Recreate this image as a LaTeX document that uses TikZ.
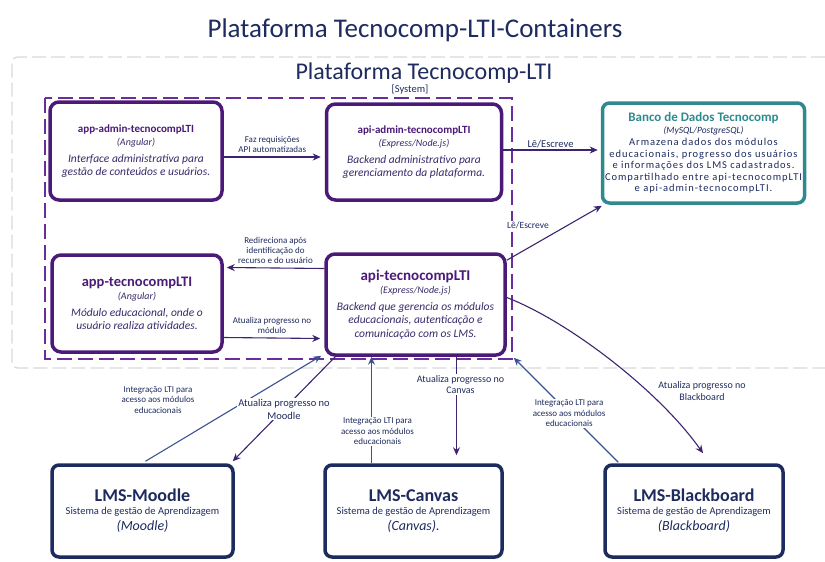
\documentclass[tikz,border=0pt]{standalone}
\usepackage{fontspec}
\setmainfont{Carlito}
\usetikzlibrary{arrows.meta}
\definecolor{purp}{HTML}{4B1A78}
\definecolor{purpd}{HTML}{6B2C9C}
\definecolor{tealc}{HTML}{2F8A8F}
\definecolor{navy}{HTML}{1E2B5E}
\definecolor{cArrP}{HTML}{3D2470}
\definecolor{cArrB}{HTML}{3A5290}
\definecolor{txt}{HTML}{3A2A6A}
\newcommand\fs[2]{\fontsize{#1}{#2}\selectfont}
\newcommand\wide{\addfontfeature{LetterSpace=9}}
\begin{document}
\begin{tikzpicture}[x=1pt,y=-1pt,
 pbox/.style={draw=purp, line width=3.5pt, rounded corners=9pt, fill=white, align=center, inner sep=2pt, text=txt, font=\fs{11.5}{13.5}},
 dbox/.style={draw=tealc, line width=3.5pt, rounded corners=7pt, fill=white, align=center, inner sep=2pt, text=navy, font=\fs{10.5}{11.5}},
 lbox/.style={draw=navy, line width=3.5pt, rounded corners=7pt, fill=white, align=center, inner sep=2pt, text=navy, font=\fs{10.5}{13}},
 arrowp/.style={-{Stealth[length=8pt,width=7pt]}, line width=1.1pt, draw=cArrP},
 arrowb/.style={-{Stealth[length=8pt,width=7pt]}, line width=1.1pt, draw=cArrB},
 lbl/.style={font=\fs{8.5}{9.5}, align=center, text=navy, fill=white, inner sep=1pt}
]
\useasboundingbox (0,0) rectangle (825,562);

% title
\node[text=navy, font=\fs{27}{30}] (title) at (415,30) {Plataforma Tecnocomp-LTI-Containers};

% outer grey boundary
\draw[gray!30, line width=1.3pt, dash pattern=on 14pt off 5pt, rounded corners=6pt]
  (825,57) -- (12,57) -- (12,368) -- (825,368);
\node[text=navy, font=\fs{24}{26}] (sys) at (424,73) {Plataforma Tecnocomp-LTI};
\node[text=navy, font=\fs{10.5}{12}] (systag) at (410,90) {[System]};

% purple system boundary
\draw[purpd, line width=2.8pt, dash pattern=on 15pt off 6pt] (45,98) rectangle (512,359);

% boxes
\node[pbox, minimum width=172pt, minimum height=98pt] (appadmin) at (136,151) {%
 {\fs{11}{13}\bfseries\color{purp}app-admin-tecnocompLTI}\\
 {\fs{10}{12}\itshape (Angular)}\\[3pt]
 {\itshape Interface administrativa para}\\
 {\itshape gestão de conteúdos e usuários.}};

\node[pbox, minimum width=175pt, minimum height=96pt] (apiadmin) at (414,152) {%
 {\fs{11}{13}\bfseries\color{purp}api-admin-tecnocompLTI}\\
 {\fs{10}{12}\itshape (Express/Node.js)}\\[3pt]
 {\itshape Backend administrativo para}\\
 {\itshape gerenciamento da plataforma.}};

\node[dbox, minimum width=202pt, minimum height=100pt] (banco) at (703.5,153) {%
 {\fs{13}{15}\bfseries\color{tealc}Banco de Dados Tecnocomp}\\
 {\fs{9.5}{11}\itshape (MySQL/PostgreSQL)}\\[1pt]
 {\wide Armazena dados dos módulos}\\
 {\wide educacionais, progresso dos usuários}\\
 {\wide e informações dos LMS cadastrados.}\\
 {\wide Compartilhado entre api-tecnocompLTI}\\
 {\wide e api-admin-tecnocompLTI.}};

\node[pbox, minimum width=170pt, minimum height=97pt] (apptecno) at (137,303.5) {%
 {\fs{14.5}{16}\bfseries\color{purp}app-tecnocompLTI}\\
 {\fs{10}{12}\itshape (Angular)}\\[3pt]
 {\itshape Módulo educacional, onde o}\\
 {\itshape usuário realiza atividades.}};

\node[pbox, minimum width=179pt, minimum height=101pt] (apitecno) at (415.5,304.5) {%
 {\fs{15}{17}\bfseries\color{purp}api-tecnocompLTI}\\
 {\fs{10}{12}\itshape (Express/Node.js)}\\[3pt]
 {\itshape Backend que gerencia os módulos}\\
 {\itshape educacionais, autenticação e}\\
 {\itshape comunicação com os LMS.}};

\node[lbox, minimum width=181pt, minimum height=92pt] (moodle) at (142.5,511) {%
 {\fs{18}{20}\bfseries LMS-Moodle}\\
 Sistema de gestão de Aprendizagem\\[3pt]
 {\fs{14}{16}\itshape (Moodle)}};

\node[lbox, minimum width=177pt, minimum height=92pt] (canvas) at (413.5,511) {%
 {\fs{18}{20}\bfseries LMS-Canvas}\\
 Sistema de gestão de Aprendizagem\\[3pt]
 {\fs{14}{16}\itshape (Canvas).}};

\node[lbox, minimum width=178pt, minimum height=92pt] (blackboard) at (694,511) {%
 {\fs{18}{20}\bfseries LMS-Blackboard}\\
 Sistema de gestão de Aprendizagem\\[3pt]
 {\fs{14}{16}\itshape (Blackboard)}};

% connectors
\draw[arrowp] ([yshift=-6pt]appadmin.east) -- node[lbl, above=3pt, font=\fs{9}{10}]{Faz requisições\\API automatizadas} ([xshift=-4pt,yshift=-5pt]apiadmin.west);

\draw[arrowp] ([yshift=2pt]apiadmin.east) -- node[lbl, above=1pt, font=\fs{10.5}{12}]{Lê/Escreve} ([xshift=-3pt,yshift=3pt]banco.west);

\draw[arrowp] ([yshift=-8pt]apitecno.north east) -- ([xshift=1pt,yshift=-1pt]banco.south west);
\node[lbl, font=\fs{9.5}{11}] (lrw) at (528,225) {Lê/Escreve};

\draw[arrowp] ([yshift=36pt]apitecno.west) -- node[lbl, above=3pt, font=\fs{9}{10}]{Redireciona após\\identificação do\\recurso e do usuário} ([xshift=3pt,yshift=36pt]apptecno.east);

\draw[arrowp] ([yshift=-34pt]apptecno.east) -- node[lbl, above=3pt, font=\fs{9}{10}]{Atualiza progresso no\\módulo} ([xshift=-4pt,yshift=-34pt]apitecno.west);

\draw[arrowp] ([yshift=7pt]apitecno.east) .. controls (570,322) and (660,392) .. ([xshift=9pt,yshift=10pt]blackboard.north);
\node[lbl, fill=none, font=\fs{10}{11.5}] (lblbb) at (702,391) {Atualiza progresso no\\Blackboard};

\draw[arrowb] ([xshift=3pt,yshift=2pt]moodle.north) -- ([xshift=-3pt,yshift=1pt]apitecno.south west);
\node[lbl, fill=none, font=\fs{9}{10.5}] (lblm) at (158,400) {Integração LTI para\\acesso aos módulos\\educacionais};

\draw[arrowp] ([xshift=11pt]apitecno.south west) -- node[lbl, pos=0.5, font=\fs{10.5}{13}]{Atualiza progresso no\\Moodle} ([xshift=-2pt,yshift=2pt]moodle.north east);

\draw[arrowb] ([xshift=-42pt]canvas.north) -- node[lbl, pos=0.3, xshift=6pt, font=\fs{9}{10.5}]{Integração LTI para\\acesso aos módulos\\educacionais} ([xshift=-44pt]apitecno.south);

\draw[arrowp] ([xshift=41pt]apitecno.south) -- node[lbl, pos=0.28, xshift=4pt, font=\fs{10}{11.5}]{Atualiza progresso no\\Canvas} ([xshift=43pt,yshift=8pt]canvas.north);

\draw[arrowb] ([xshift=15pt,yshift=1pt]blackboard.north west) -- node[lbl, pos=0.47, font=\fs{9}{10.5}]{Integração LTI para\\acesso aos módulos\\educacionais} ([xshift=7pt,yshift=-1pt]apitecno.south east);
\end{tikzpicture}
\end{document}
